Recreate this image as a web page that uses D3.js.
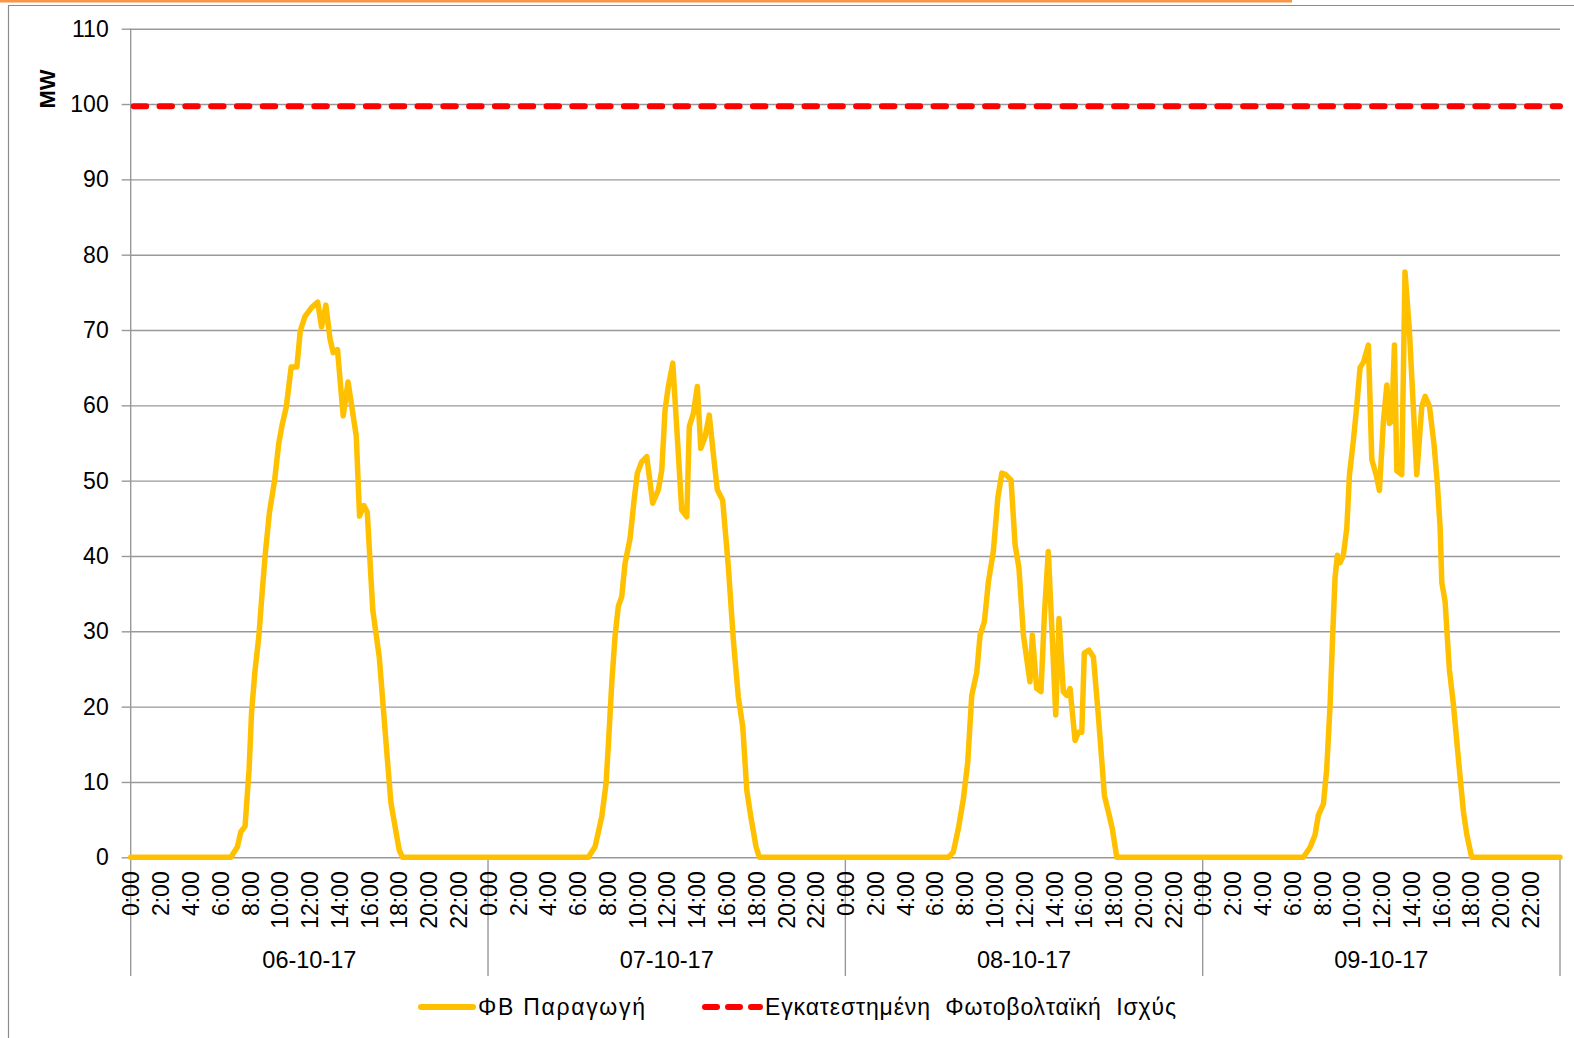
<!DOCTYPE html>
<html>
<head>
<meta charset="utf-8">
<script src="https://cdn.jsdelivr.net/npm/d3@7"></script>
<style>
  html, body { margin: 0; padding: 0; background: #fff; }
  svg { display: block; }
  text { font-family: "Liberation Sans", Arial, sans-serif; fill: #000; }
</style>
</head>
<body>
<svg id="chart" width="1574" height="1038"></svg>
<script>
// ---------------- DATA ----------------
const dayLabels = ["06-10-17", "07-10-17", "08-10-17", "09-10-17"];
const hourTickLabels = ["0:00","2:00","4:00","6:00","8:00","10:00","12:00","14:00","16:00","18:00","20:00","22:00"];
const hourTicks = [0,2,4,6,8,10,12,14,16,18,20,22];
const yTicks = [0,10,20,30,40,50,60,70,80,90,100,110];
const yAxisTitle = "MW";
const seriesNames = ["ΦΒ Παραγωγή", "Εγκατεστημένη  Φωτοβολταϊκή  Ισχύς"];
const installedMW = 99.7;

// hour of day / MW (PV production) for each day
const day1Hours = [6.73,7.17,7.40,7.68,7.95,8.12,8.34,8.61,8.83,9.05,9.32,9.67,9.94,10.16,10.45,10.78,11.16,11.39,11.71,12.16,12.56,12.82,13.11,13.38,13.60,13.89,14.27,14.60,15.15,15.37,15.66,15.89,16.26,16.70,17.26,17.48,18.03,18.26];
const day1MW    = [0,1.4,3.4,4.1,11.6,19.3,24.6,29.4,35.2,40.5,45.8,50.1,54.9,57.3,59.8,65.1,65.1,69.9,71.8,73.0,73.7,70.4,73.3,68.9,67.0,67.4,58.6,63.1,55.9,45.3,46.7,45.8,32.8,26.5,12.5,7.2,1.0,0];

const day2Hours = [6.74,7.19,7.64,7.93,8.15,8.31,8.53,8.75,8.98,9.20,9.54,9.81,10.03,10.32,10.66,11.06,11.44,11.67,11.89,12.11,12.41,12.67,13.01,13.35,13.52,13.79,14.06,14.29,14.58,14.86,15.13,15.40,15.76,16.14,16.48,16.81,17.11,17.38,17.65,18.00,18.22];
const day2MW    = [0,1.4,5.4,9.8,17.3,23.1,29.3,33.3,34.6,39.0,42.3,47.4,51.0,52.5,53.2,47.0,48.8,51.4,59.4,62.5,65.6,57.2,46.1,45.2,57.2,58.9,62.5,54.3,55.8,58.7,53.6,48.8,47.4,38.6,28.8,21.3,17.3,8.9,5.4,1.4,0];

const day3Hours = [6.92,7.25,7.59,7.93,8.22,8.49,8.83,9.05,9.34,9.61,9.94,10.24,10.51,10.77,11.13,11.40,11.66,11.96,12.40,12.56,12.85,13.14,13.37,13.63,13.86,14.13,14.35,14.64,14.87,15.09,15.43,15.65,15.88,16.05,16.37,16.66,16.99,17.40,17.67,17.93,18.23];
const day3MW    = [0,0.7,3.8,7.8,12.6,21.5,24.6,29.5,31.3,36.6,40.6,47.7,51.0,50.8,50.1,41.5,38.4,29.5,23.3,29.5,22.4,22.0,32.2,40.6,30.8,18.9,31.7,22.0,21.5,22.4,15.5,16.6,16.6,27.1,27.5,26.6,18.9,8.2,6.0,3.8,0];

const day4Hours = [6.76,7.21,7.55,7.77,8.11,8.33,8.56,8.74,8.89,9.05,9.23,9.45,9.68,9.86,10.12,10.35,10.57,10.79,11.13,11.36,11.65,11.87,12.14,12.37,12.54,12.70,12.88,13.04,13.37,13.59,13.88,14.38,14.72,14.94,15.23,15.54,15.76,15.95,16.06,16.28,16.57,16.84,17.17,17.51,17.74,18.07];
const day4MW    = [0,1.3,3.0,5.6,7.1,11.7,20.3,29.9,37.1,40.1,39.1,40.1,43.7,50.8,55.3,59.9,65.0,65.7,68.0,52.8,50.8,48.7,57.9,62.7,57.6,57.9,68.0,51.3,50.8,77.7,70.1,50.8,59.9,61.2,59.9,54.8,49.7,43.7,36.5,34.0,24.9,20.3,13.2,6.1,3.0,0];

// ---------------- BUILD ----------------
(function () {
const dayHours = [day1Hours, day2Hours, day3Hours, day4Hours];
const dayMW = [day1MW, day2MW, day3MW, day4MW];
const pv = [];
dayLabels.forEach((d, i) => {
  pv.push({t: i * 24, v: 0});
  dayHours[i].forEach((h, k) => pv.push({t: i * 24 + h, v: dayMW[i][k]}));
  pv.push({t: i * 24 + 24, v: 0});
});

const svg = d3.select("#chart");
const pLeft = 130.7, pRight = 1560, pTop = 28.7, pBottom = 857.3;
const x = d3.scaleLinear().domain([0, 24 * dayLabels.length]).range([pLeft, pRight]);
const y = d3.scaleLinear().domain([0, 110]).range([pBottom, pTop]);
const gridColor = "#999999";
const fontFam = "Liberation Sans, Arial, sans-serif";

// outer frame & top strip
svg.append("rect").attr("x", 0).attr("y", 0).attr("width", 1292).attr("height", 2.5).attr("fill", "#F79646");
svg.append("line").attr("x1", 8).attr("x2", 1574).attr("y1", 5.5).attr("y2", 5.5).attr("stroke", "#8c8c8c").attr("stroke-width", 1.2);
svg.append("line").attr("x1", 8.5).attr("x2", 8.5).attr("y1", 5.5).attr("y2", 1038).attr("stroke", "#8c8c8c").attr("stroke-width", 1.2);

// gridlines
const grid = svg.append("g").attr("transform", `translate(${pLeft},0)`)
  .call(d3.axisLeft(y).tickValues(yTicks).tickSize(-(pRight - pLeft)).tickFormat(""));
grid.select(".domain").remove();
grid.selectAll("line").attr("stroke", gridColor).attr("stroke-width", 1.4);

// y axis
const yAxis = svg.append("g").attr("transform", `translate(${pLeft},0)`)
  .call(d3.axisLeft(y).tickValues(yTicks).tickSize(9).tickPadding(13));
yAxis.select(".domain").remove();
yAxis.selectAll("line").attr("stroke", gridColor).attr("stroke-width", 1.4);
yAxis.selectAll("text").style("font-size", "23px").attr("font-family", fontFam).attr("fill", "#000");

svg.append("line").attr("x1", pLeft).attr("x2", pLeft).attr("y1", pTop).attr("y2", 976)
  .attr("stroke", gridColor).attr("stroke-width", 1.4);

svg.append("text").attr("transform", "translate(55,89) rotate(-90)")
  .attr("text-anchor", "middle").style("font-size", "22px").style("font-weight", "bold").text(yAxisTitle);

// x axis per day
dayLabels.forEach((d, i) => {
  const ax = svg.append("g").attr("transform", `translate(0,${pBottom})`)
    .call(d3.axisBottom(x).tickValues(hourTicks.map(h => i * 24 + h))
      .tickFormat((t, k) => hourTickLabels[k]).tickSize(0));
  ax.select(".domain").remove();
  ax.selectAll("text")
    .attr("transform", "rotate(-90)")
    .attr("x", -14).attr("y", 0).attr("dy", "0.36em")
    .attr("text-anchor", "end")
    .style("font-size", "23px").attr("font-family", fontFam).attr("fill", "#000");
  svg.append("line").attr("x1", x((i + 1) * 24)).attr("x2", x((i + 1) * 24))
    .attr("y1", pBottom).attr("y2", 976).attr("stroke", gridColor).attr("stroke-width", 1.4);
  svg.append("text").attr("x", x(i * 24 + 12)).attr("y", 968).attr("text-anchor", "middle")
    .style("font-size", "23.5px").text(d);
});

// installed capacity (red dashed)
svg.append("line").attr("x1", x(0) + 3).attr("x2", x(96)).attr("y1", y(installedMW)).attr("y2", y(installedMW))
  .attr("stroke", "#FF0000").attr("stroke-width", 6).attr("stroke-linecap", "round")
  .attr("stroke-dasharray", "12.5 13.3");

// PV production line
svg.append("path").datum(pv)
  .attr("d", d3.line().x(p => x(p.t)).y(p => y(p.v)))
  .attr("fill", "none").attr("stroke", "#FFC000").attr("stroke-width", 5.5)
  .attr("stroke-linejoin", "round").attr("stroke-linecap", "round");

// legend
const ly = 1007;
svg.append("line").attr("x1", 421).attr("x2", 473).attr("y1", ly).attr("y2", ly)
  .attr("stroke", "#FFC000").attr("stroke-width", 6).attr("stroke-linecap", "round");
svg.append("text").attr("x", 478).attr("y", ly + 8).style("font-size", "23px")
  .attr("textLength", 167).attr("lengthAdjust", "spacing").text(seriesNames[0]);
svg.append("line").attr("x1", 705).attr("x2", 760).attr("y1", ly).attr("y2", ly)
  .attr("stroke", "#FF0000").attr("stroke-width", 6).attr("stroke-linecap", "round")
  .attr("stroke-dasharray", "12 11");
svg.append("text").attr("x", 765).attr("y", ly + 8).style("font-size", "23px").style("white-space", "pre")
  .attr("xml:space", "preserve").attr("textLength", 411).attr("lengthAdjust", "spacing").text(seriesNames[1]);
})();
</script>
</body>
</html>
